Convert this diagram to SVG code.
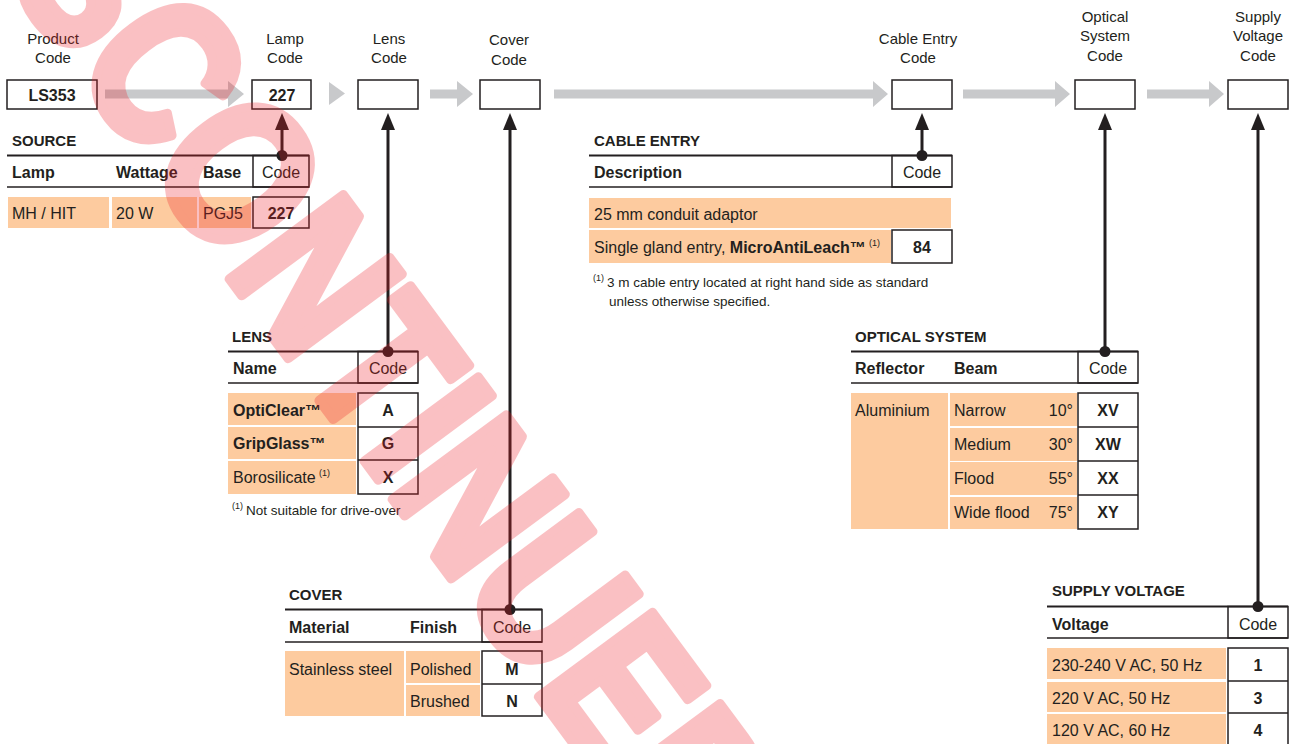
<svg xmlns="http://www.w3.org/2000/svg" width="1295" height="744" viewBox="0 0 1295 744">
<defs>
<style>
text{font-family:"Liberation Sans",Arial,sans-serif;fill:#231f20}
.lbl{font-size:15px;text-anchor:middle}
.d{font-size:16px}
.b{font-weight:bold}
.c{text-anchor:middle}
.ttl{font-size:15px;font-weight:bold}
.fn{font-size:13.5px}
.sup{font-size:9px}
.cell{fill:#fdcb9f}
.box{fill:#fff;stroke:#231f20;stroke-width:1.5}
.hl{stroke:#231f20;stroke-width:2;fill:none}
.hl2{stroke:#231f20;stroke-width:1.5;fill:none}
.ga{fill:#c8c9cb}
.conn{stroke:#231f20;stroke-width:3;fill:none;marker-start:url(#dot);marker-end:url(#ah)}
#watermark{opacity:0.27}
#watermark text{font-family:"Liberation Sans",Arial,sans-serif;font-weight:bold;font-size:205px;fill:#ed1c24;stroke:#ed1c24;stroke-width:10;stroke-linejoin:round}
</style>
<marker id="ah" markerUnits="userSpaceOnUse" viewBox="0 0 17 14" markerWidth="17" markerHeight="14" refX="12" refY="7" orient="auto"><path d="M0,0 L17,7 L0,14 Z" fill="#231f20"/></marker>
<marker id="dot" markerUnits="userSpaceOnUse" viewBox="0 0 12 12" markerWidth="12" markerHeight="12" refX="6" refY="6" orient="auto"><circle cx="6" cy="6" r="5.5" fill="#231f20"/></marker>
</defs>

<g id="code-row">
<g id="product-code">
<text class="lbl" x="53" y="44">Product</text><text class="lbl" x="53" y="63">Code</text>
<rect class="box" x="7" y="80" width="90" height="29"/>
<text class="d b c" x="52" y="101">LS353</text>
</g>
<g id="lamp-code">
<text class="lbl" x="285" y="44">Lamp</text><text class="lbl" x="285" y="63">Code</text>
<rect class="box" x="252" y="80" width="59" height="29"/>
<text class="d b c" x="282" y="101">227</text>
</g>
<g id="lens-code">
<text class="lbl" x="389" y="44">Lens</text><text class="lbl" x="389" y="63">Code</text>
<rect class="box" x="358" y="80" width="60" height="29"/>
</g>
<g id="cover-code">
<text class="lbl" x="509" y="45">Cover</text><text class="lbl" x="509" y="65">Code</text>
<rect class="box" x="480" y="80" width="60" height="29"/>
</g>
<g id="cable-code">
<text class="lbl" x="918" y="44">Cable Entry</text><text class="lbl" x="918" y="63">Code</text>
<rect class="box" x="892" y="80" width="60" height="29"/>
</g>
<g id="optical-code">
<text class="lbl" x="1105" y="22">Optical</text><text class="lbl" x="1105" y="41">System</text><text class="lbl" x="1105" y="61">Code</text>
<rect class="box" x="1075" y="80" width="60" height="29"/>
</g>
<g id="supply-code">
<text class="lbl" x="1258" y="22">Supply</text><text class="lbl" x="1258" y="41">Voltage</text><text class="lbl" x="1258" y="61">Code</text>
<rect class="box" x="1228" y="80" width="60" height="29"/>
</g>
</g>

<g id="flow-arrows">
<path class="ga" d="M105,89.5 H228 V81 L244,94 L228,107 V98.5 H105 Z"/>
<path class="ga" d="M329,82 L345,93.5 L329,105 Z"/>
<path class="ga" d="M430,89.5 H457 V81 L473,94 L457,107 V98.5 H430 Z"/>
<path class="ga" d="M554,89.5 H873 V81 L888,94 L873,107 V98.5 H554 Z"/>
<path class="ga" d="M963,89.5 H1055 V81 L1070,94 L1055,107 V98.5 H963 Z"/>
<path class="ga" d="M1147,89.5 H1209 V81 L1224,94 L1209,107 V98.5 H1147 Z"/>
</g>

<g id="source">
<text class="ttl" x="12" y="146">SOURCE</text>
<rect class="box" x="253" y="155.5" width="56" height="31.5"/>
<line class="hl" x1="7" y1="155.5" x2="309" y2="155.5"/>
<line class="hl2" x1="7" y1="187" x2="309" y2="187"/>
<text class="d b" x="12" y="178">Lamp</text>
<text class="d b" x="116" y="178">Wattage</text>
<text class="d b" x="203" y="178">Base</text>
<text class="d c" x="281" y="178">Code</text>
<rect class="cell" x="8" y="197" width="101" height="31"/>
<rect class="cell" x="112" y="197" width="85" height="31"/>
<rect class="cell" x="199" y="197" width="52" height="31"/>
<rect class="box" x="253" y="197" width="56" height="31"/>
<text class="d" x="12" y="219">MH / HIT</text>
<text class="d" x="116" y="219">20 W</text>
<text class="d" x="203" y="219">PGJ5</text>
<text class="d b c" x="281" y="219">227</text>
</g>

<g id="cable-entry">
<text class="ttl" x="594" y="146">CABLE ENTRY</text>
<rect class="box" x="892" y="155.5" width="60" height="31.5"/>
<line class="hl" x1="589" y1="155.5" x2="952" y2="155.5"/>
<line class="hl2" x1="589" y1="187" x2="952" y2="187"/>
<text class="d b" x="594" y="178">Description</text>
<text class="d c" x="922" y="178">Code</text>
<rect class="cell" x="589" y="198" width="362" height="30"/>
<rect class="cell" x="589" y="230" width="302" height="33"/>
<rect class="box" x="892" y="230" width="60" height="33"/>
<text class="d" x="594" y="220">25 mm conduit adaptor</text>
<text class="d" x="594" y="253">Single gland entry, <tspan class="b">MicroAntiLeach™</tspan></text>
<text class="sup" x="869" y="246">(1)</text>
<text class="d b c" x="922" y="253">84</text>
<text class="sup" x="593" y="281">(1)</text>
<text class="fn" x="607" y="287">3 m cable entry located at right hand side as standard</text>
<text class="fn" x="609" y="306">unless otherwise specified.</text>
</g>

<g id="lens">
<text class="ttl" x="232" y="342">LENS</text>
<rect class="box" x="358" y="351.5" width="60" height="31.5"/>
<line class="hl" x1="228" y1="351.5" x2="418" y2="351.5"/>
<line class="hl2" x1="228" y1="383" x2="418" y2="383"/>
<text class="d b" x="233" y="374">Name</text>
<text class="d c" x="388" y="374">Code</text>
<rect class="cell" x="228" y="393" width="128" height="32"/>
<rect class="cell" x="228" y="427" width="128" height="32"/>
<rect class="cell" x="228" y="461" width="128" height="33"/>
<rect class="box" x="358" y="393" width="60" height="101"/>
<line class="hl2" x1="358" y1="427" x2="418" y2="427"/>
<line class="hl2" x1="358" y1="460" x2="418" y2="460"/>
<text class="d b" x="233" y="416">OptiClear™</text>
<text class="d b" x="233" y="449">GripGlass™</text>
<text class="d" x="233" y="483">Borosilicate</text>
<text class="sup" x="319" y="476">(1)</text>
<text class="d b c" x="388" y="416">A</text>
<text class="d b c" x="388" y="449">G</text>
<text class="d b c" x="388" y="483">X</text>
<text class="sup" x="232" y="509">(1)</text>
<text class="fn" x="246" y="515">Not suitable for drive-over</text>
</g>

<g id="cover">
<text class="ttl" x="289" y="600">COVER</text>
<rect class="box" x="482" y="609.5" width="60" height="32.5"/>
<line class="hl" x1="285" y1="609.5" x2="542" y2="609.5"/>
<line class="hl2" x1="285" y1="642" x2="542" y2="642"/>
<text class="d b" x="289" y="633">Material</text>
<text class="d b" x="410" y="633">Finish</text>
<text class="d c" x="512" y="633">Code</text>
<rect class="cell" x="285" y="651" width="119" height="65"/>
<rect class="cell" x="406" y="651" width="74" height="32"/>
<rect class="cell" x="406" y="685" width="74" height="31"/>
<rect class="box" x="482" y="651" width="60" height="65"/>
<line class="hl2" x1="482" y1="684" x2="542" y2="684"/>
<text class="d" x="289" y="675">Stainless steel</text>
<text class="d" x="410" y="675">Polished</text>
<text class="d" x="410" y="707">Brushed</text>
<text class="d b c" x="512" y="675">M</text>
<text class="d b c" x="512" y="707">N</text>
</g>

<g id="optical-system">
<text class="ttl" x="855" y="342">OPTICAL SYSTEM</text>
<rect class="box" x="1078" y="351.5" width="60" height="31.5"/>
<line class="hl" x1="851" y1="351.5" x2="1138" y2="351.5"/>
<line class="hl2" x1="851" y1="383" x2="1138" y2="383"/>
<text class="d b" x="855" y="374">Reflector</text>
<text class="d b" x="954" y="374">Beam</text>
<text class="d c" x="1108" y="374">Code</text>
<rect class="cell" x="851" y="393" width="97" height="136"/>
<rect class="cell" x="950" y="393" width="127" height="33"/>
<rect class="cell" x="950" y="428" width="127" height="33"/>
<rect class="cell" x="950" y="462" width="127" height="33"/>
<rect class="cell" x="950" y="497" width="127" height="32"/>
<rect class="box" x="1078" y="393" width="60" height="136"/>
<line class="hl2" x1="1078" y1="427" x2="1138" y2="427"/>
<line class="hl2" x1="1078" y1="461" x2="1138" y2="461"/>
<line class="hl2" x1="1078" y1="495" x2="1138" y2="495"/>
<text class="d" x="855" y="416">Aluminium</text>
<text class="d" x="954" y="416">Narrow</text>
<text class="d" x="954" y="450">Medium</text>
<text class="d" x="954" y="484">Flood</text>
<text class="d" x="954" y="518">Wide flood</text>
<text class="d" x="1073" y="416" text-anchor="end">10°</text>
<text class="d" x="1073" y="450" text-anchor="end">30°</text>
<text class="d" x="1073" y="484" text-anchor="end">55°</text>
<text class="d" x="1073" y="518" text-anchor="end">75°</text>
<text class="d b c" x="1108" y="416">XV</text>
<text class="d b c" x="1108" y="450">XW</text>
<text class="d b c" x="1108" y="484">XX</text>
<text class="d b c" x="1108" y="518">XY</text>
</g>

<g id="supply-voltage">
<text class="ttl" x="1052" y="596">SUPPLY VOLTAGE</text>
<rect class="box" x="1228" y="606.5" width="60" height="31.5"/>
<line class="hl" x1="1047" y1="606.5" x2="1288" y2="606.5"/>
<line class="hl2" x1="1047" y1="638" x2="1288" y2="638"/>
<text class="d b" x="1052" y="630">Voltage</text>
<text class="d c" x="1258" y="630">Code</text>
<rect class="cell" x="1047" y="648" width="179" height="31"/>
<rect class="cell" x="1047" y="682" width="179" height="30"/>
<rect class="cell" x="1047" y="714" width="179" height="32"/>
<rect class="box" x="1228" y="648" width="60" height="100"/>
<line class="hl2" x1="1228" y1="681" x2="1288" y2="681"/>
<line class="hl2" x1="1228" y1="713" x2="1288" y2="713"/>
<text class="d" x="1052" y="671">230-240 V AC, 50 Hz</text>
<text class="d" x="1052" y="704">220 V AC, 50 Hz</text>
<text class="d" x="1052" y="736">120 V AC, 60 Hz</text>
<text class="d b c" x="1258" y="671">1</text>
<text class="d b c" x="1258" y="704">3</text>
<text class="d b c" x="1258" y="736">4</text>
</g>

<g id="connectors">
<line class="conn" x1="282" y1="155.5" x2="282" y2="118"/>
<line class="conn" x1="388" y1="351.5" x2="388" y2="118"/>
<line class="conn" x1="510" y1="609.5" x2="510" y2="118"/>
<line class="conn" x1="922" y1="155.5" x2="922" y2="118"/>
<line class="conn" x1="1105" y1="351.5" x2="1105" y2="118"/>
<line class="conn" x1="1258" y1="606.5" x2="1258" y2="118"/>
</g>

<g id="watermark">
<text transform="translate(-98,-164) rotate(53.5) scale(0.83,1)" x="0" y="0">DISCONTINUED</text>
</g>
</svg>
